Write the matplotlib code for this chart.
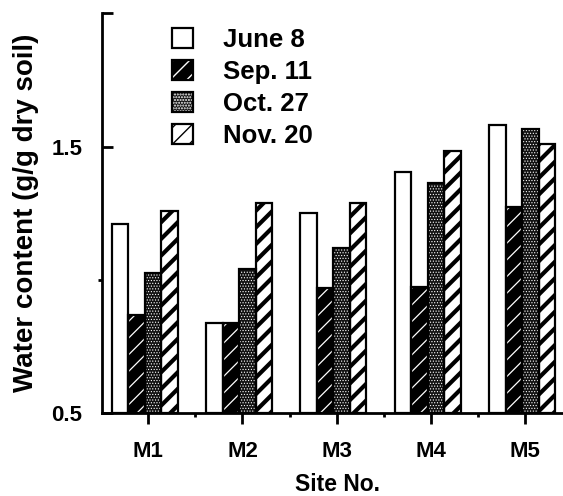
import numpy as np
import matplotlib
matplotlib.use('Agg')
import matplotlib.pyplot as plt
from matplotlib.patches import Patch
from matplotlib.legend_handler import HandlerTuple

plt.rcParams['font.family'] = ['Liberation Sans', 'DejaVu Sans']
plt.rcParams['font.weight'] = 'bold'

sites = ['M1', 'M2', 'M3', 'M4', 'M5']
dates = ['June 8', 'Sep. 11', 'Oct. 27', 'Nov. 20']

june8 = [1.21, 0.84, 1.25, 1.405, 1.58]
sep11 = [0.87, 0.84, 0.97, 0.975, 1.275]
oct27 = [1.025, 1.04, 1.12, 1.365, 1.568]
nov20 = [1.257, 1.29, 1.29, 1.485, 1.51]
series = [june8, sep11, oct27, nov20]

# fill colour, hatch colour, hatch pattern, hatch line width for each date
styles = [
    ('white', 'black', None, 1.0),
    ('black', 'white', '//', 0.9),
    ('#111111', 'white', '......', 0.5),
    ('white', 'black', '//', 3.0),
]

fig = plt.figure(figsize=(5.63, 4.96), dpi=100)
ax = fig.add_axes([0.181, 0.167, 0.836, 0.806])

x = np.arange(len(sites))
width = 0.175
handles = []
for i, (vals, (fc, hc, hatch, hlw)) in enumerate(zip(series, styles)):
    pos = x + (i - 1.5) * width - 0.035
    heights = np.array(vals) - 0.5
    with plt.rc_context({'hatch.linewidth': hlw, 'hatch.color': hc}):
        fill = ax.bar(pos, heights, width, bottom=0.5, color=fc, edgecolor=hc,
                      hatch=hatch, linewidth=0, zorder=2)
        for p in fill:
            if hasattr(p, 'set_hatch_linewidth'):
                p.set_hatch_linewidth(hlw)
        ax.bar(pos, heights, width, bottom=0.5, fill=False, edgecolor='black',
               linewidth=1.6, zorder=3)
        h_fill = Patch(facecolor=fc, edgecolor=hc, hatch=hatch, linewidth=0)
        if hasattr(h_fill, 'set_hatch_linewidth'):
            h_fill.set_hatch_linewidth(hlw)
    h_edge = Patch(fill=False, edgecolor='black', linewidth=1.6)
    handles.append((h_fill, h_edge))

ax.set_xlim(-0.49, 4.5)
ax.set_ylim(0.5, 2.0)

ax.spines['top'].set_visible(False)
ax.spines['right'].set_visible(False)
ax.spines['left'].set_linewidth(2)
ax.spines['bottom'].set_linewidth(2)

ax.set_xticks(x)
ax.set_xticklabels(sites, fontsize=16, fontweight='bold')
ax.set_xticks(x[:-1] + 0.5, minor=True)
ax.tick_params(axis='x', which='major', direction='out', length=8, width=2, pad=12)
ax.tick_params(axis='x', which='minor', direction='out', length=3, width=2)

ax.set_yticks([0.5, 1.5, 2.0])
ax.set_yticklabels(['0.5', '1.5', ''], fontsize=16, fontweight='bold')
ax.set_yticks([1.0], minor=True)
ax.tick_params(axis='y', which='major', direction='in', length=8, width=2, pad=14)
ax.tick_params(axis='y', which='minor', direction='out', length=3, width=2)

ax.set_xlabel('Site No.', fontsize=16.5, fontweight='bold', labelpad=8)
ax.set_ylabel('Water content (g/g dry soil)', fontsize=20, fontweight='bold', labelpad=9)

ax.legend(handles, dates, handler_map={tuple: HandlerTuple(ndivide=1, pad=0)},
          loc='upper left', bbox_to_anchor=(172 / 563, 1 - 28 / 496),
          bbox_transform=fig.transFigure, frameon=False, borderpad=0,
          borderaxespad=0, prop={'size': 18.5, 'weight': 'bold'},
          handlelength=0.82, handleheight=0.82, handletextpad=1.17,
          labelspacing=0.31)

fig.savefig('out.png', dpi=100)
